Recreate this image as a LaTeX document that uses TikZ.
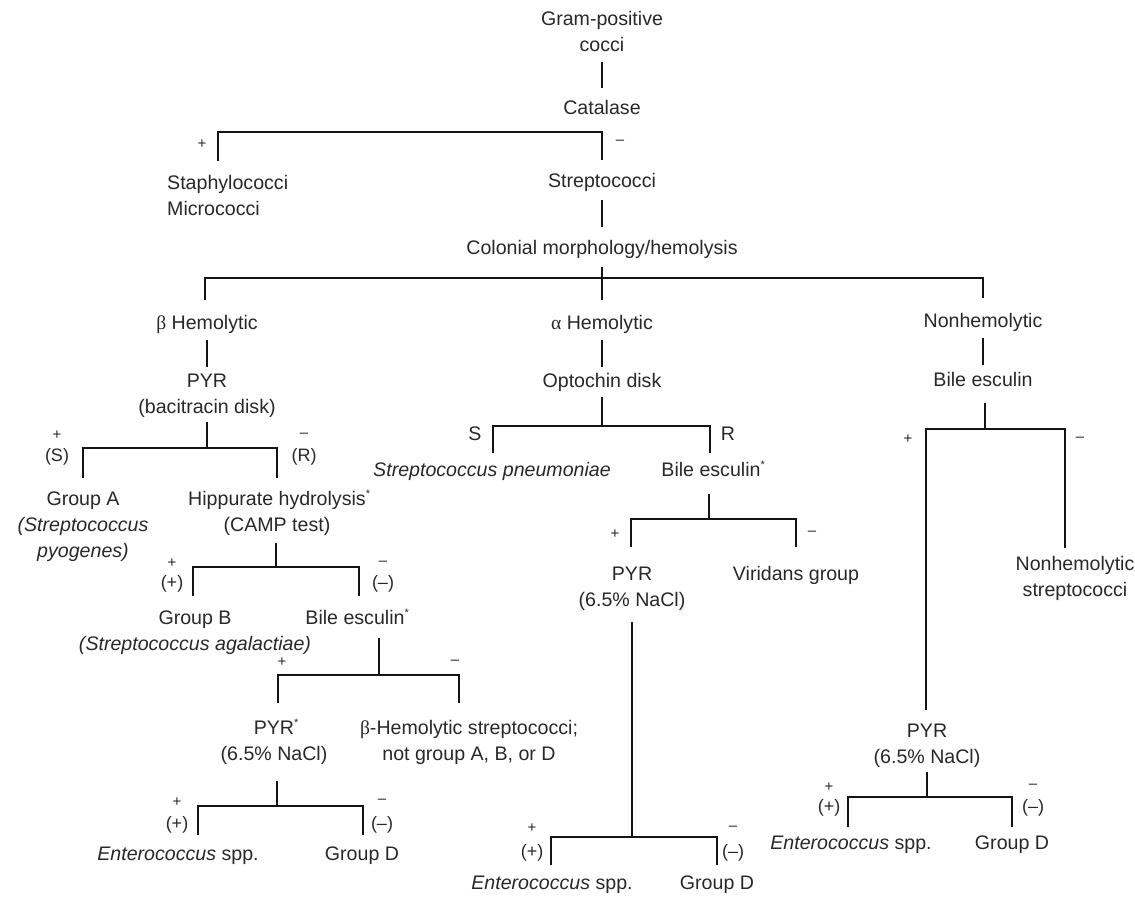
\documentclass[tikz,border=0pt]{standalone}
\usepackage{fontspec}
\setmainfont{Liberation Sans}
\newfontfamily\grk{Liberation Serif}
\definecolor{txt}{RGB}{40,40,40}
\definecolor{lnc}{RGB}{20,20,20}
\newcommand\stv{\rule[-5pt]{0pt}{20pt}}
\newcommand\astx{\rlap{\raisebox{8pt}{\fontsize{11}{11}\selectfont *}}}
\begin{document}
\begin{tikzpicture}[x=1pt,y=-1pt,
  lbl/.style={anchor=north, inner sep=0pt, align=center, text=txt, font=\fontsize{19.6}{26}\selectfont},
  sgn/.style={inner sep=0pt, text=txt, font=\fontsize{15}{15}\selectfont},
  pn/.style={inner sep=0pt, text=txt, font=\fontsize{18}{18}\selectfont},
  sr/.style={inner sep=0pt, text=txt, font=\fontsize{19.6}{20}\selectfont},
  ln/.style={line width=2.4pt, draw=lnc},
]
\useasboundingbox (0,0) rectangle (1135,897);

% ---- nodes ----
\node[lbl] (gp) at (602,10) {\stv Gram-positive\\\stv cocci};
\node[lbl] (cat) at (602,99) {\stv Catalase};
\node[lbl, anchor=north west, align=left] (staph) at (167,174) {\stv Staphylococci\\\stv Micrococci};
\node[lbl] (strep) at (602,172) {\stv Streptococci};
\node[lbl] (col) at (602,239) {\stv Colonial morphology/hemolysis};
\node[lbl] (beta) at (207,314) {\stv{\grk β} Hemolytic};
\node[lbl] (alpha) at (602,314) {\stv{\grk α} Hemolytic};
\node[lbl] (nonh) at (983,312) {\stv Nonhemolytic};
\node[lbl] (pyr1) at (207,372) {\stv PYR\\\stv (bacitracin disk)};
\node[lbl] (opto) at (602,372) {\stv Optochin disk};
\node[lbl] (bile1) at (983,371) {\stv Bile esculin};
\node[lbl] (grpA) at (83,490) {\stv Group A\\\stv\textit{(Streptococcus}\\\stv\textit{pyogenes)}};
\node[lbl] (hipp) at (277,490) {\stv Hippurate hydrolysis\astx\\\stv (CAMP test)};
\node[lbl] (spn) at (492,461) {\stv\textit{Streptococcus pneumoniae}};
\node[lbl] (bile2) at (711,461) {\stv Bile esculin\astx};
\node[lbl] (grpB) at (195,609) {\stv Group B\\\stv\textit{(Streptococcus agalactiae)}};
\node[lbl] (bile3) at (355,609) {\stv Bile esculin\astx};
\node[lbl] (pyr2) at (632,565) {\stv PYR\\\stv (6.5\% NaCl)};
\node[lbl] (vir) at (796,565) {\stv Viridans group};
\node[lbl] (nstrep) at (1075,555) {\stv Nonhemolytic\\\stv streptococci};
\node[lbl] (pyr3) at (274,719) {\stv PYR\astx\\\stv (6.5\% NaCl)};
\node[lbl] (bhs) at (469,719) {\stv{\grk β}-Hemolytic streptococci;\\\stv not group A, B, or D};
\node[lbl] (pyr4) at (927,722) {\stv PYR\\\stv (6.5\% NaCl)};
\node[lbl] (ent1) at (178,845) {\stv\textit{Enterococcus} spp.};
\node[lbl] (gd1) at (362,845) {\stv Group D};
\node[lbl] (ent2) at (552,874) {\stv\textit{Enterococcus} spp.};
\node[lbl] (gd2) at (717,874) {\stv Group D};
\node[lbl] (ent3) at (851,834) {\stv\textit{Enterococcus} spp.};
\node[lbl] (gd3) at (1012,834) {\stv Group D};

% ---- sign labels ----
\node[sgn] (s1p) at (202,144) {+};
\node[sgn] (s1m) at (620,142) {–};
\node[sgn] (s6p) at (57,435) {+};
\node[pn]  (s6pp) at (57,457) {(S)};
\node[sgn] (s6m) at (304,435) {–};
\node[pn]  (s6mm) at (304,457) {(R)};
\node[sgn] (s7p) at (172,563) {+};
\node[pn]  (s7pp) at (172,584) {(+)};
\node[sgn] (s7m) at (383,563) {–};
\node[pn]  (s7mm) at (383,584) {(–)};
\node[sgn] (s8p) at (282,662) {+};
\node[sgn] (s8m) at (455,662) {–};
\node[sgn] (s9p) at (177,802) {+};
\node[pn]  (s9pp) at (177,825) {(+)};
\node[sgn] (s9m) at (382,801) {–};
\node[pn]  (s9mm) at (382,825) {(–)};
\node[sr]  (s11s) at (475,434) {S};
\node[sr]  (s11r) at (728,434) {R};
\node[sgn] (s12p) at (615,534) {+};
\node[sgn] (s12m) at (812,533) {–};
\node[sgn] (s13p) at (532,828) {+};
\node[pn]  (s13pp) at (532,853) {(+)};
\node[sgn] (s13m) at (733,828) {–};
\node[pn]  (s13mm) at (733,853) {(–)};
\node[sgn] (s15p) at (908,439) {+};
\node[sgn] (s15m) at (1080,439) {–};
\node[sgn] (s16p) at (829,787) {+};
\node[pn]  (s16pp) at (829,808) {(+)};
\node[sgn] (s16m) at (1033,786) {–};
\node[pn]  (s16mm) at (1033,808) {(–)};

% ---- junction coordinates ----
\coordinate (c1L) at (218,132);  \coordinate (c1R) at (602,132);
\coordinate (c4L) at (205,278);  \coordinate (c4R) at (983,278);
\coordinate (j6) at (207,448);   \coordinate (c6L) at (83,448);   \coordinate (c6R) at (277,448);
\coordinate (j7) at (276,567);   \coordinate (c7L) at (193,567);  \coordinate (c7R) at (359,567);
\coordinate (j8) at (379,675);   \coordinate (c8L) at (278,675);  \coordinate (c8R) at (459,675);
\coordinate (j9) at (277,806);   \coordinate (c9L) at (198,806);  \coordinate (c9R) at (363,806);
\coordinate (j11) at (602,426);  \coordinate (c11L) at (493,426); \coordinate (c11R) at (710,426);
\coordinate (j12) at (709,519);  \coordinate (c12L) at (631,519); \coordinate (c12R) at (796,519);
\coordinate (j13) at (632,837);  \coordinate (c13L) at (551,837); \coordinate (c13R) at (717,837);
\coordinate (j15) at (985,429);  \coordinate (c15L) at (926,429); \coordinate (c15R) at (1065,429);
\coordinate (j16) at (927,797);  \coordinate (c16L) at (848,797); \coordinate (c16R) at (1012,797);

% ---- connectors ----
\draw[ln, shorten <=6pt, shorten >=11pt] (gp.south) -- (cat.north);
\draw[ln, shorten <=13pt, shorten >=12pt] (staph.north -| c1L) -- (c1L) -- (c1R) -- (strep.north);
\draw[ln, shorten <=8pt, shorten >=12pt] (strep.south) -- (col.north);
\draw[ln, shorten <=8pt, shorten >=14pt] (col.south) -- (alpha.north);
\draw[ln, shorten <=14pt, shorten >=14pt] (beta.north -| c4L) -- (c4L) -- (c4R) -- (nonh.north -| c4R);

\draw[ln, shorten <=6pt, shorten >=5pt] (beta.south) -- (pyr1.north);
\draw[ln, shorten <=4pt] (pyr1.south -| j6) -- (j6);
\draw[ln, shorten <=12pt, shorten >=12pt] (grpA.north -| c6L) -- (c6L) -- (c6R) -- (hipp.north -| c6R);
\draw[ln, shorten <=6pt] (hipp.south -| j7) -- (j7);
\draw[ln, shorten <=13pt, shorten >=13pt] (grpB.north -| c7L) -- (c7L) -- (c7R) -- (bile3.north -| c7R);
\draw[ln, shorten <=8pt] (bile3.south -| j8) -- (j8);
\draw[ln, shorten <=16pt, shorten >=16pt] (pyr3.north -| c8L) -- (c8L) -- (c8R) -- (bhs.north -| c8R);
\draw[ln, shorten <=15pt] (pyr3.south -| j9) -- (j9);
\draw[ln, shorten <=10pt, shorten >=10pt] (ent1.north -| c9L) -- (c9L) -- (c9R) -- (gd1.north -| c9R);

\draw[ln, shorten <=6pt, shorten >=5pt] (alpha.south) -- (opto.north);
\draw[ln, shorten <=5pt] (opto.south -| j11) -- (j11);
\draw[ln, shorten <=8pt, shorten >=8pt] (spn.north -| c11L) -- (c11L) -- (c11R) -- (bile2.north -| c11R);
\draw[ln, shorten <=12pt] (bile2.south -| j12) -- (j12);
\draw[ln, shorten <=18pt, shorten >=18pt] (pyr2.north -| c12L) -- (c12L) -- (c12R) -- (vir.north -| c12R);
\draw[ln, shorten <=11pt] (pyr2.south -| j13) -- (j13);
\draw[ln, shorten <=9pt, shorten >=9pt] (ent2.north -| c13L) -- (c13L) -- (c13R) -- (gd2.north -| c13R);

\draw[ln, shorten <=6pt, shorten >=6pt] (nonh.south) -- (bile1.north);
\draw[ln, shorten <=12pt] (bile1.south -| j15) -- (j15);
\draw[ln, shorten <=12pt, shorten >=7pt] (pyr4.north -| c15L) -- (c15L) -- (c15R) -- (nstrep.north -| c15R);
\draw[ln, shorten <=4pt] (pyr4.south -| j16) -- (j16);
\draw[ln, shorten <=7pt, shorten >=7pt] (ent3.north -| c16L) -- (c16L) -- (c16R) -- (gd3.north -| c16R);
\end{tikzpicture}
\end{document}
